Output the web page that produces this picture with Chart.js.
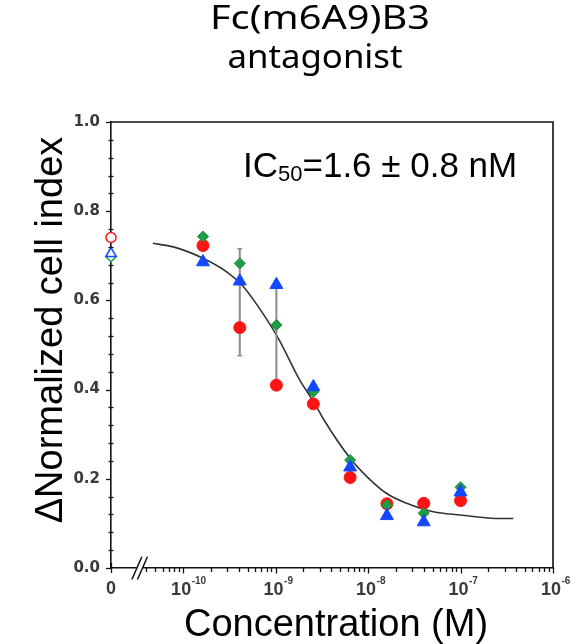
<!DOCTYPE html>
<html>
<head>
<meta charset="utf-8">
<script src="https://cdn.jsdelivr.net/npm/chart.js@4"></script>
<style>
html,body{margin:0;padding:0;background:#fff;}
canvas{display:block;}
</style>
</head>
<body>
<canvas id="c" width="580" height="644"></canvas>
<script>
// ---------- data ----------
const concentrations = [1.64e-10, 4.1e-10, 1.02e-9, 2.56e-9, 6.4e-9, 1.6e-8, 4e-8, 1e-7]; // M
const redValues   = [0.723, 0.539, 0.410, 0.368, 0.203, 0.144, 0.145, 0.151];
const greenValues = [0.743, 0.683, 0.545, 0.395, 0.242, 0.141, 0.123, 0.181];
const blueValues  = [0.686, 0.643, 0.635, 0.406, 0.226, 0.117, 0.103, 0.170];
// zero-concentration controls (open symbols)
const zeroRed   = [0.741];
const zeroGreen = [0.698];
const zeroBlue  = [0.705];
// error bars
const errConc = [4.1e-10, 1.02e-9];
const errLow  = [0.476, 0.415];
const errHigh = [0.716, 0.636];
// fitted curve
const fitConc   = [4.7e-11, 7.85e-11, 1.66e-10, 2.96e-10, 4.3e-10, 6.3e-10, 1.07e-9, 1.84e-9, 2.67e-9, 3.29e-9, 6.4e-9, 9.7e-9, 1.59e-8, 2.62e-8, 5.08e-8, 9.9e-8, 2.67e-7, 3.72e-7];
const fitValues = [0.728, 0.720, 0.694, 0.664, 0.635, 0.590, 0.515, 0.420, 0.368, 0.334, 0.246, 0.205, 0.167, 0.145, 0.126, 0.119, 0.111, 0.111];
// axes
const yTickValues = [0, 0.2, 0.4, 0.6, 0.8, 1.0];
const yTickLabels = ['0.0', '0.2', '0.4', '0.6', '0.8', '1.0'];
const xDecades    = [-10, -9, -8, -7, -6];
const xTickBase   = '10';
const xTickExps   = ['-10', '-9', '-8', '-7', '-6'];
const xZeroLabel  = '0';
const xMinLog = -10.78, xMaxLog = -6, xBreakLog = -10.47;
const titleLines = ['Fc(m6A9)B3', 'antagonist'];
const xTitle = 'Concentration (M)';
const yTitle = '\u0394Normalized cell index';
const icParts = ['IC', '50', '=1.6 \u00B1 0.8 nM'];

const RED = '#ff1414', GREEN = '#1f9e45', BLUE = '#1448ff';

const lg = c => Math.log10(c);
const pts = (xs, ys) => xs.map((c, i) => ({x: lg(c), y: ys[i]}));

// tick lists
const yAllTicks = [];
for (let v = 0; v <= 1.0001; v += 0.04) yAllTicks.push(Math.round(v * 100) / 100);
const xAllTicks = [xMinLog];
for (let n = -11; n <= -7; n++) {
  for (let k = 1; k <= 9; k++) {
    const v = n + Math.log10(k);
    if (v > xBreakLog && v <= xMaxLog + 1e-9) xAllTicks.push(v);
  }
}
xAllTicks.push(xMaxLog);

const isYMajor = v => yTickValues.some(t => Math.abs(t - v) < 1e-6);
const xMajorIndex = v => xDecades.findIndex(d => Math.abs(d - v) < 1e-6);

const datasets = [];
// error bars
errConc.forEach((c, i) => {
  datasets.push({
    type: 'line', order: 5, clip: false,
    data: [{x: lg(c), y: errLow[i]}, {x: lg(c), y: errHigh[i]}],
    borderColor: '#8c8c8c', borderWidth: 2,
    pointStyle: 'line', pointRadius: 2.5, pointBorderColor: '#8c8c8c', pointBorderWidth: 1.5,
    showLine: true
  });
});
// fitted curve
datasets.push({
  type: 'line', order: 6, data: pts(fitConc, fitValues),
  borderColor: '#333', borderWidth: 1.6, pointRadius: 0, cubicInterpolationMode: 'monotone', fill: false
});
// measured points
datasets.push({type: 'scatter', order: 2, clip: false, data: pts(concentrations, redValues),
  pointStyle: 'circle', pointRadius: 6, backgroundColor: RED, borderColor: RED, borderWidth: 1});
datasets.push({type: 'scatter', order: 1, clip: false, data: pts(concentrations, greenValues),
  pointStyle: 'rectRot', pointRadius: 5.5, backgroundColor: GREEN, borderColor: '#178a38', borderWidth: 1});
datasets.push({type: 'scatter', order: 0, clip: false, data: pts(concentrations, blueValues),
  pointStyle: 'triangle', pointRadius: 7.5, backgroundColor: BLUE, borderColor: BLUE, borderWidth: 1});
// zero-concentration controls
datasets.push({type: 'scatter', order: 3, clip: false, data: zeroGreen.map(v => ({x: xMinLog, y: v})),
  pointStyle: 'rectRot', pointRadius: 5, backgroundColor: '#fff', borderColor: GREEN, borderWidth: 1.5});
datasets.push({type: 'scatter', order: 2.5, clip: false, data: zeroBlue.map(v => ({x: xMinLog, y: v})),
  pointStyle: 'triangle', pointRadius: 6, backgroundColor: '#fff', borderColor: BLUE, borderWidth: 1.5});
datasets.push({type: 'scatter', order: 2.4, clip: false, data: zeroRed.map(v => ({x: xMinLog, y: v})),
  pointStyle: 'circle', pointRadius: 5, backgroundColor: '#fff', borderColor: RED, borderWidth: 1.5});

const framePlugin = {
  id: 'frameTicks',
  afterDraw(chart) {
    const {ctx, chartArea: a, scales: {x, y}} = chart;
    ctx.save();
    ctx.strokeStyle = '#111';
    ctx.lineWidth = 1.6;
    ctx.beginPath();
    ctx.moveTo(a.left, a.top); ctx.lineTo(a.right, a.top); ctx.lineTo(a.right, a.bottom);
    ctx.stroke();
    ctx.lineWidth = 1.3;
    y.ticks.forEach(t => {
      const py = Math.round(y.getPixelForValue(t.value)) + 0.5;
      ctx.beginPath();
      if (isYMajor(t.value)) { ctx.moveTo(a.left - 5, py); ctx.lineTo(a.left, py); }
      else { ctx.moveTo(a.left - 2.5, py); ctx.lineTo(a.left + 2.5, py); }
      ctx.stroke();
    });
    x.ticks.forEach(t => {
      const px = Math.round(x.getPixelForValue(t.value)) + 0.5;
      ctx.beginPath();
      if (Math.abs(t.value - xMinLog) < 1e-6) { ctx.moveTo(px, a.bottom - 5); ctx.lineTo(px, a.bottom + 5); }
      else if (xMajorIndex(t.value) >= 0) { ctx.moveTo(px, a.bottom); ctx.lineTo(px, a.bottom + 5.5); }
      else { ctx.moveTo(px, a.bottom); ctx.lineTo(px, a.bottom + 4); }
      ctx.stroke();
    });
    // decade labels: 10 with a raised exponent, placed through the x scale
    ctx.fillStyle = '#3a3a3a';
    ctx.textBaseline = 'alphabetic';
    xDecades.forEach((d, i) => {
      const px = x.getPixelForValue(d) - 2;
      ctx.font = 'bold 18px "Liberation Sans"';
      ctx.textAlign = 'center';
      ctx.fillText(xTickBase, px, a.bottom + 27);
      const w = ctx.measureText(xTickBase).width;
      ctx.font = 'bold 10px "Liberation Sans"';
      ctx.textAlign = 'left';
      ctx.fillText(xTickExps[i], px + w / 2 + 0.5, a.bottom + 16);
    });
    // axis break
    const bx = x.getPixelForValue(xBreakLog);
    ctx.fillStyle = '#fff';
    ctx.fillRect(bx - 3, a.bottom - 3, 6, 6);
    ctx.strokeStyle = '#111';
    ctx.lineWidth = 1.5;
    ctx.beginPath();
    ctx.moveTo(bx - 7.8, a.bottom + 11.5); ctx.lineTo(bx + 2.2, a.bottom - 11.2);
    ctx.moveTo(bx - 2.2, a.bottom + 11.5); ctx.lineTo(bx + 7.8, a.bottom - 11.2);
    ctx.stroke();
    ctx.restore();
  }
};

function fillStretched(ctx, text, cx, y, targetW) {
  const w = ctx.measureText(text).width;
  const s = targetW / w;
  ctx.save();
  ctx.translate(cx, y);
  ctx.scale(s, 1);
  ctx.textAlign = 'center';
  ctx.fillText(text, 0, 0);
  ctx.restore();
}

const textPlugin = {
  id: 'texts',
  afterDraw(chart) {
    const ctx = chart.ctx;
    ctx.save();
    ctx.fillStyle = '#000';
    ctx.textBaseline = 'alphabetic';
    ctx.textAlign = 'center';
    ctx.font = '33px "Noto Sans"';
    fillStretched(ctx, titleLines[0], 320, 29, 220);
    fillStretched(ctx, titleLines[1], 315, 68, 175);
    ctx.font = '38px "Liberation Sans"';
    ctx.fillText(xTitle, 336, 636);
    // IC50 annotation
    ctx.textAlign = 'left';
    let x0 = 243;
    ctx.font = '35px "Liberation Sans"';
    ctx.fillText(icParts[0], x0, 177);
    x0 += ctx.measureText(icParts[0]).width;
    ctx.font = '22px "Liberation Sans"';
    ctx.fillText(icParts[1], x0, 181);
    x0 += ctx.measureText(icParts[1]).width;
    ctx.font = '35px "Liberation Sans"';
    ctx.fillText(icParts[2], x0, 177);
    // y title
    ctx.textAlign = 'center';
    ctx.font = '38px "Liberation Sans"';
    ctx.translate(62, 330);
    ctx.rotate(-Math.PI / 2);
    ctx.fillText(yTitle, 0, 0);
    ctx.restore();
  }
};

new Chart(document.getElementById('c'), {
  data: {datasets},
  options: {
    responsive: false,
    animation: false,
    devicePixelRatio: 1,
    layout: {padding: {top: 122, right: 27, bottom: 0, left: 0}},
    plugins: {legend: {display: false}, tooltip: {enabled: false}, title: {display: false}},
    scales: {
      x: {
        type: 'linear', min: xMinLog, max: xMaxLog,
        grid: {display: false, drawTicks: false},
        border: {display: true, color: '#111', width: 1.6},
        afterBuildTicks: s => { s.ticks = xAllTicks.map(v => ({value: v})); },
        afterFit: s => { s.height = 76; },
        ticks: {
          autoSkip: false, maxRotation: 0, padding: 10, color: '#3a3a3a',
          font: {family: '"Liberation Sans"', size: 18, weight: 'bold'},
          callback: v => (Math.abs(v - xMinLog) < 1e-6 ? xZeroLabel : '')
        }
      },
      y: {
        type: 'linear', min: 0, max: 1.0,
        grid: {display: false, drawTicks: false},
        border: {display: true, color: '#111', width: 1.6},
        afterBuildTicks: s => { s.ticks = yAllTicks.map(v => ({value: v})); },
        afterFit: s => { s.width = 111; },
        ticks: {
          autoSkip: false, padding: 11, color: '#3a3a3a',
          font: {family: '"DejaVu Sans"', size: 15, weight: 'bold'},
          callback: v => {
            const i = yTickValues.findIndex(t => Math.abs(t - v) < 1e-6);
            return i >= 0 ? yTickLabels[i] : '';
          }
        }
      }
    }
  },
  plugins: [framePlugin, textPlugin]
});
</script>
</body>
</html>
